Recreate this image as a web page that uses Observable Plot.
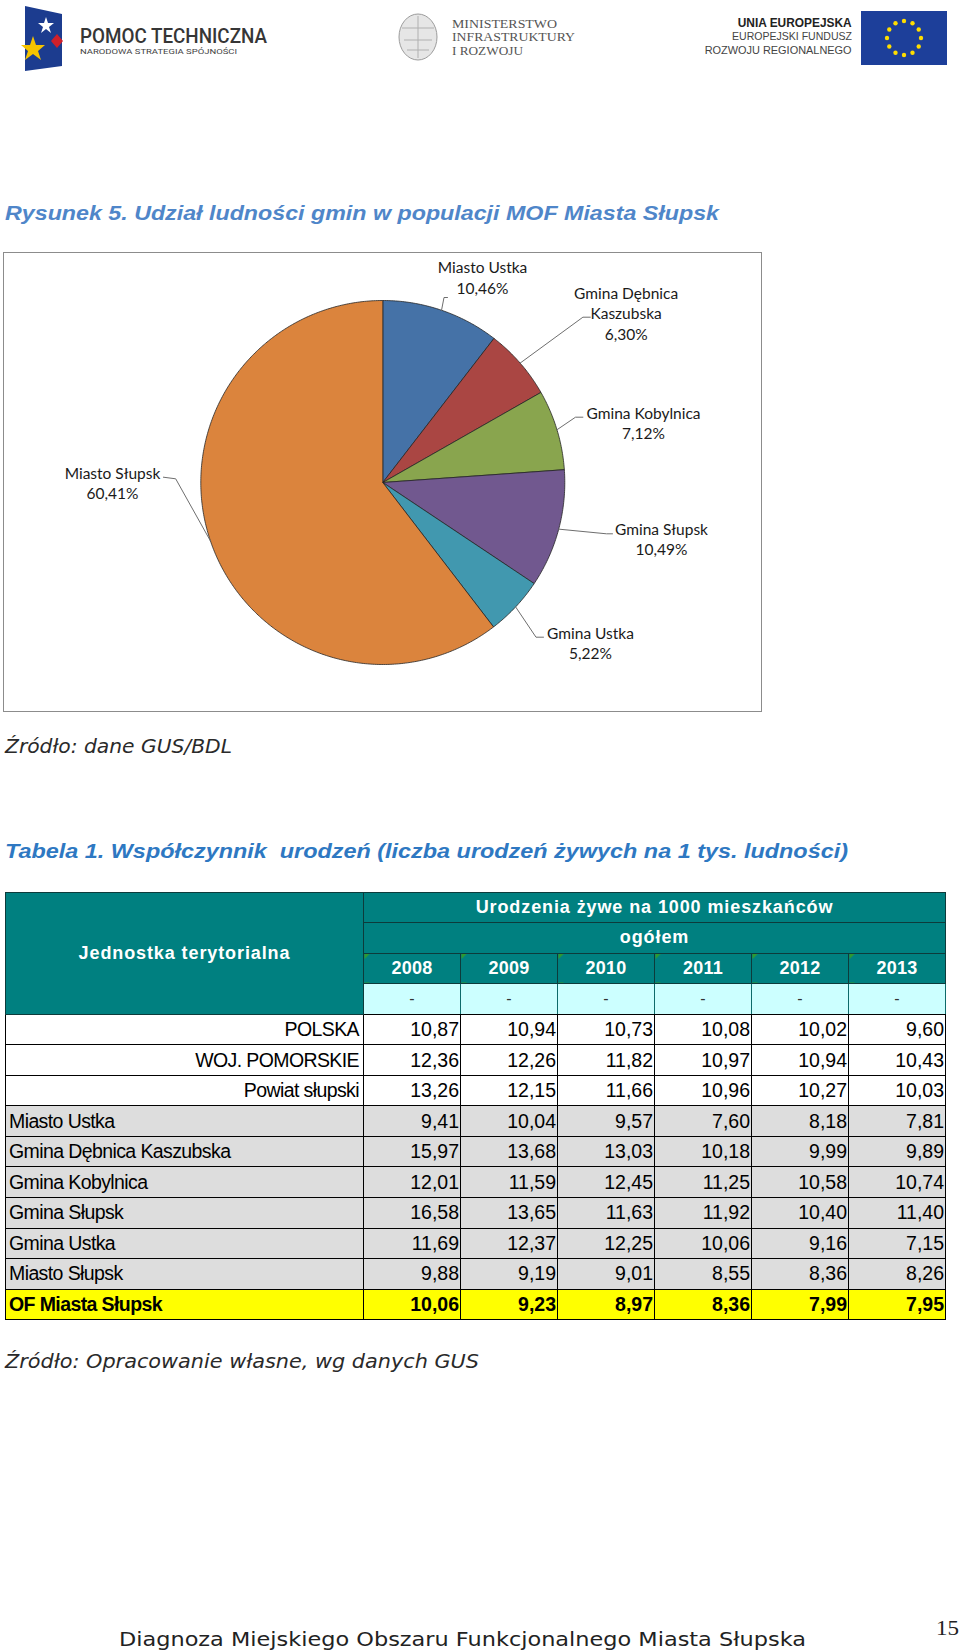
<!DOCTYPE html>
<html lang="pl"><head><meta charset="utf-8">
<script src="https://cdn.jsdelivr.net/npm/d3@7"></script>
<script src="https://cdn.jsdelivr.net/npm/@observablehq/plot@0.6"></script>
<style>
html,body{margin:0;padding:0;background:#fff;}
#page{position:relative;width:960px;height:1652px;overflow:hidden;background:#fff;}
.t{position:absolute;white-space:pre;line-height:1;transform-origin:0 50%;}
#frame{position:absolute;left:3px;top:252px;width:759px;height:460px;border:1.5px solid #8c8c8c;box-sizing:border-box;}
#pie{position:absolute;left:4px;top:253px;}
#tbl{position:absolute;left:5px;top:891.5px;border-collapse:collapse;table-layout:fixed;width:940px;}
#tbl tr{height:30.55px;}
#tbl td{padding:0 2px;border:1px solid #000;white-space:nowrap;overflow:hidden;font-family:"Liberation Sans",Arial,sans-serif;color:#000;}
#tbl td.hd{background:#008080;color:#fff;font-weight:bold;font-size:18px;letter-spacing:0.9px;text-align:center;border-color:#0d3b3b;}
#tbl td.yr{letter-spacing:0.3px;background:linear-gradient(135deg,#2f9a2f 0,#2f9a2f 4px,rgba(0,0,0,0) 4px),#008080;}
#tbl td.dash{background:#ccffff;color:#333;text-align:center;font-size:16px;border-color:#0d6a6a;border-bottom-color:#000;}
#tbl td.num{text-align:right;font-size:19.5px;padding-right:1px;}
#tbl td.nm{font-size:19.5px;letter-spacing:-0.6px;padding-left:3px;}
#tbl tr.agg td.nm{text-align:right;padding-right:4px;}
#tbl tr.gm td{background:#dddddd;}
#tbl tr.of td{background:#ffff00;font-weight:bold;}
</style></head>
<body><div id="page">
<svg id="logos" width="960" height="80" style="position:absolute;left:0;top:0">
  <polygon points="25,6 62,14 62,66 25,71" fill="#1c3c8f"/>
  <polygon points="33,36 36,45 45,45 38,51 41,60 33,54 25,60 28,51 21,45 30,45" fill="#f5c400"/>
  <polygon points="46,17 48,23 54,23 49,27 51,33 46,29 41,33 43,27 38,23 44,23" fill="#ffffff"/>
  <polygon points="57,34 63,41 57,48 51,41" fill="#d0202a"/>
  <ellipse cx="418" cy="37" rx="19" ry="23" fill="#e6e6e6" stroke="#9c9c9c" stroke-width="1"/>
  <path d="M418,16 L418,58 M402,28 L434,28 M404,40 L432,40 M407,50 L429,50" stroke="#b0b0b0" stroke-width="1" fill="none"/>
  <rect x="861" y="11" width="86" height="54" fill="#1d3f9a"/>
  <g id="stars"></g>
</svg>
<div id="frame"></div>
<div id="pie"></div>
</div>
<script>
// ---------- data ----------
const gminy = ["Miasto Ustka", "Gmina Dębnica Kaszubska", "Gmina Kobylnica", "Gmina Słupsk", "Gmina Ustka", "Miasto Słupsk"];
const udzial = [10.46, 6.30, 7.12, 10.49, 5.22, 60.41];
const kolory = ["#4572A7", "#AA4643", "#89A54E", "#71588F", "#4198AF", "#DB843D"];

const jednostki = ["POLSKA", "WOJ. POMORSKIE", "Powiat słupski", "Miasto Ustka", "Gmina Dębnica Kaszubska",
  "Gmina Kobylnica", "Gmina Słupsk", "Gmina Ustka", "Miasto Słupsk", "OF Miasta Słupsk"];
const lata = [2008, 2009, 2010, 2011, 2012, 2013];
const r2008 = [10.87, 12.36, 13.26, 9.41, 15.97, 12.01, 16.58, 11.69, 9.88, 10.06];
const r2009 = [10.94, 12.26, 12.15, 10.04, 13.68, 11.59, 13.65, 12.37, 9.19, 9.23];
const r2010 = [10.73, 11.82, 11.66, 9.57, 13.03, 12.45, 11.63, 12.25, 9.01, 8.97];
const r2011 = [10.08, 10.97, 10.96, 7.60, 10.18, 11.25, 11.92, 10.06, 8.55, 8.36];
const r2012 = [10.02, 10.94, 10.27, 8.18, 9.99, 10.58, 10.40, 9.16, 8.36, 7.99];
const r2013 = [9.60, 10.43, 10.03, 7.81, 9.89, 10.74, 11.40, 7.15, 8.26, 7.95];

// ---------- page texts ----------
const page = document.getElementById("page");
const fits = [];
function txt(s, o) {
  const d = document.createElement("div");
  d.className = "t"; d.textContent = s;
  Object.assign(d.style, {
    top: (o.cy - o.size / 2) + "px", fontSize: o.size + "px", fontFamily: o.font,
    fontWeight: o.weight || "normal", fontStyle: o.italic ? "italic" : "normal", color: o.color || "#222"
  });
  if (o.lh) d.style.lineHeight = o.lh;
  if (o.right) { d.style.right = (960 - o.x) + "px"; d.style.transformOrigin = "100% 50%"; }
  else d.style.left = o.x + "px";
  page.appendChild(d);
  if (o.w) fits.push([d, o.w]);
  return d;
}
function applyFits() {
  for (const [d, w] of fits) {
    d.style.transform = "none";
    const r = d.getBoundingClientRect().width;
    if (r > 0) d.style.transform = `scaleX(${w / r})`;
  }
}
const SANS = '"Liberation Sans", Arial, sans-serif';
const GOTH = '"DejaVu Sans", sans-serif';
txt("POMOC TECHNICZNA", {x: 80, cy: 36, size: 21, font: "Roboto, sans-serif", weight: 500, color: "#363636", w: 187});
txt("NARODOWA STRATEGIA SPÓJNOŚCI", {x: 80, cy: 52, size: 8, font: "Roboto, sans-serif", color: "#444", w: 157});
txt("MINISTERSTWO", {x: 452, cy: 23, size: 13, font: '"Liberation Serif", serif', color: "#555", w: 105});
txt("INFRASTRUKTURY", {x: 452, cy: 36.5, size: 13, font: '"Liberation Serif", serif', color: "#555", w: 123});
txt("I ROZWOJU", {x: 452, cy: 50, size: 13, font: '"Liberation Serif", serif', color: "#555", w: 71});
txt("UNIA EUROPEJSKA", {x: 852, cy: 23, size: 12.5, font: SANS, weight: "bold", color: "#222", right: true, w: 114});
txt("EUROPEJSKI FUNDUSZ", {x: 852, cy: 37, size: 11.5, font: SANS, color: "#444", right: true, w: 120});
txt("ROZWOJU REGIONALNEGO", {x: 852, cy: 51, size: 11.5, font: SANS, color: "#444", right: true, w: 147});

txt("Rysunek 5. Udział ludności gmin w populacji MOF Miasta Słupsk", {x: 5, cy: 213, size: 20.5, font: SANS, weight: "bold", italic: true, color: "#4F86C9", w: 714});
txt("Źródło: dane GUS/BDL", {x: 5, cy: 746, size: 19, font: GOTH, italic: true, color: "#2a2a2a", w: 227});
txt("Tabela 1. Współczynnik  urodzeń (liczba urodzeń żywych na 1 tys. ludności)", {x: 5, cy: 851, size: 20.5, font: SANS, weight: "bold", italic: true, color: "#2E78C2", w: 843});
txt("Źródło: Opracowanie własne, wg danych GUS", {x: 5, cy: 1361, size: 19, font: GOTH, italic: true, color: "#2a2a2a", w: 474});
txt("Diagnoza Miejskiego Obszaru Funkcjonalnego Miasta Słupska", {x: 119, cy: 1639, size: 20, font: GOTH, color: "#222", w: 687});
txt("15", {x: 936, cy: 1628, size: 22, font: '"Liberation Serif", serif', color: "#222", w: 23});

// EU stars
d3.select("#stars").selectAll("circle").data(d3.range(12)).join("circle")
  .attr("cx", i => 904 + 17 * Math.sin(i * Math.PI / 6))
  .attr("cy", i => 38 - 17 * Math.cos(i * Math.PI / 6))
  .attr("r", 2.2).attr("fill", "#ffdd00");

// ---------- pie with Plot ----------
const OX = 4, OY = 253, W = 757, H = 458;
const CX = 382.3 - OX, CY = 482 - OY, R = 182;
// label layout (page px): label centre x, first-line centre y, leader elbow and end
const labelLayout = [
  {cx: 482, cy: 266, ex: 443.5, ey: 297, tx: 447, ty: 297},
  {cx: 625.6, cy: 291.7, ex: 582.4, ey: 316.7, tx: 589.8, ty: 316.7},
  {cx: 643, cy: 411.7, ex: 575, ey: 416.7, tx: 582.4, ty: 416.7},
  {cx: 661, cy: 527.7, ex: 606, ey: 533.3, tx: 612, ty: 533.3},
  {cx: 590, cy: 631.7, ex: 535.5, ey: 636.7, tx: 543, ty: 636.7},
  {cx: 112, cy: 471.7, ex: 175.2, ey: 478.3, tx: 162.9, ty: 476.7}
];
const LH = 20.6;
const pct = v => d3.format(".2f")(v).replace(".", ",") + "%";
const arcs = d3.pie().sort(null).value(d => d)(udzial);
const pt = (a, r) => ({x: CX + r * Math.sin(a), y: CY - r * Math.cos(a)});
const slices = arcs.flatMap((a, i) => {
  const n = Math.max(2, Math.ceil((a.endAngle - a.startAngle) / 0.01));
  const pts = [pt(0, 0)];
  for (let k = 0; k <= n; k++) pts.push(pt(a.startAngle + (a.endAngle - a.startAngle) * k / n, R));
  pts.push(pt(0, 0));
  return pts.map(p => ({...p, name: gminy[i]}));
});
const leaders = arcs.flatMap((a, i) => {
  const L = labelLayout[i];
  const m = pt((a.startAngle + a.endAngle) / 2, R);
  return [m, {x: L.ex - OX, y: L.ey - OY}, {x: L.tx - OX, y: L.ty - OY}].map(p => ({...p, name: gminy[i]}));
});
const labels = gminy.map((g, i) => {
  const L = labelLayout[i];
  const name = g.length > 16 ? g.replace(/ (\S+)$/, "\n$1") : g;
  const text = name + "\n" + pct(udzial[i]);
  const lines = text.split("\n").length;
  return {x: L.cx - OX, y: L.cy - OY + (lines - 1) * LH / 2, text};
});

const pie = Plot.plot({
  width: W, height: H, margin: 0,
  x: {domain: [0, W], range: [0, W], axis: null},
  y: {domain: [0, H], range: [0, H], axis: null},
  color: {domain: gminy, range: kolory},
  style: {background: "transparent", fontFamily: "Lato, sans-serif", overflow: "visible"},
  marks: [
    Plot.line(slices, {x: "x", y: "y", z: "name", fill: "name", stroke: "#262626", strokeWidth: 0.8, strokeLinejoin: "round"}),
    Plot.line(leaders, {x: "x", y: "y", z: "name", stroke: "#6e6e6e", strokeWidth: 1}),
    Plot.text(labels, {x: "x", y: "y", text: "text", fontSize: 15.5, lineHeight: LH / 15.5, fill: "#1a1a1a", textAnchor: "middle", lineAnchor: "middle"})
  ]
});
document.getElementById("pie").appendChild(pie);

// ---------- table ----------
const kolumny = [r2008, r2009, r2010, r2011, r2012, r2013];
const fmt = v => d3.format(".2f")(v).replace(".", ",");
const tbl = d3.select("#page").append("table").attr("id", "tbl");
const cg = tbl.append("colgroup");
cg.append("col").style("width", "358px");
lata.forEach(() => cg.append("col").style("width", "97px"));
const tb = tbl.append("tbody");
const h1 = tb.append("tr");
h1.append("td").attr("rowspan", 4).attr("class", "hd").text("Jednostka terytorialna");
h1.append("td").attr("colspan", 6).attr("class", "hd").text("Urodzenia żywe na 1000 mieszkańców");
tb.append("tr").append("td").attr("colspan", 6).attr("class", "hd").text("ogółem");
const h3 = tb.append("tr");
lata.forEach(y => h3.append("td").attr("class", "hd yr").text(y));
const h4 = tb.append("tr");
lata.forEach(() => h4.append("td").attr("class", "dash").text("-"));
jednostki.forEach((j, i) => {
  const tr = tb.append("tr").attr("class", i < 3 ? "agg" : i < 9 ? "gm" : "of");
  tr.append("td").attr("class", "nm").text(j);
  kolumny.forEach(col => tr.append("td").attr("class", "num").text(fmt(col[i])));
});

applyFits();
if (document.fonts && document.fonts.ready) document.fonts.ready.then(applyFits);
</script>
</body></html>
